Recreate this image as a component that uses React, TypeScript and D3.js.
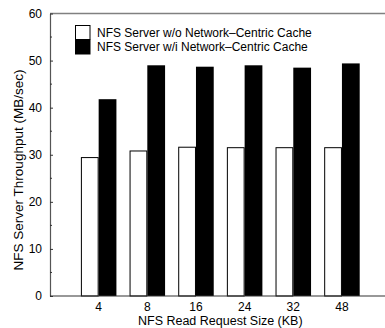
import React, { useEffect, useRef } from "react";
import * as d3 from "d3";

// request sizes on the x axis
const sizes = ["4", "8", "16", "24", "32", "48"];
// throughput (MB/sec)
const withoutCache = [29.4, 30.8, 31.6, 31.5, 31.5, 31.5];
const withCache = [41.8, 49.0, 48.7, 49.0, 48.5, 49.4];
const seriesNames = [
  "NFS Server w/o Network\u2013Centric Cache",
  "NFS Server w/i Network\u2013Centric Cache",
];
const yTicks = [0, 10, 20, 30, 40, 50, 60];

const FONT = "'Liberation Sans', Arial, Helvetica, sans-serif";

function BarChart() {
  const svgRef = useRef<SVGSVGElement>(null);
  const width = 385;
  const height = 328;
  const left = 50;
  const top = 13.5;
  const bottom = 296;
  const right = 390.6;

  useEffect(() => {
    const svg = d3.select(svgRef.current);
    svg.selectAll("*").remove();

    // 7 steps across the plot, bars 26% gap inside each step
    const x = d3
      .scaleBand()
      .domain(sizes)
      .range([left, right])
      .paddingInner(0.27)
      .paddingOuter(0.635);

    const y = d3.scaleLinear().domain([0, 60]).range([bottom, top]);

    const half = x.bandwidth() / 2;

    // white bars (w/o cache)
    svg
      .append("g")
      .selectAll("rect")
      .data(sizes)
      .join("rect")
      .attr("x", (d) => x(d)! + 0.5)
      .attr("y", (d, i) => y(withoutCache[i]))
      .attr("width", half - 1)
      .attr("height", (d, i) => bottom - y(withoutCache[i]))
      .attr("fill", "#fff")
      .attr("stroke", "#000")
      .attr("stroke-width", 1);

    // black bars (w/ cache)
    svg
      .append("g")
      .selectAll("rect")
      .data(sizes)
      .join("rect")
      .attr("x", (d) => x(d)! + half)
      .attr("y", (d, i) => y(withCache[i]))
      .attr("width", half)
      .attr("height", (d, i) => bottom - y(withCache[i]))
      .attr("fill", "#000");

    // top frame line
    svg
      .append("line")
      .attr("x1", left)
      .attr("x2", width)
      .attr("y1", top)
      .attr("y2", top)
      .attr("stroke", "#808080")
      .attr("stroke-width", 1.3);

    // y axis, ticks pointing inward, minor ticks at 5s
    const yAxis = svg
      .append("g")
      .attr("transform", `translate(${left},0)`)
      .call(
        d3
          .axisLeft(y)
          .tickValues(yTicks)
          .tickSizeInner(-3)
          .tickSizeOuter(0)
          .tickPadding(8)
      );
    yAxis.select(".domain").attr("stroke", "#555").attr("stroke-width", 1.2);
    yAxis.selectAll(".tick line").attr("stroke", "#333");
    yAxis
      .selectAll("text")
      .attr("font-family", FONT)
      .attr("font-size", 12)
      .attr("fill", "#000");

    svg
      .append("g")
      .selectAll("line")
      .data(d3.range(5, 60, 10))
      .join("line")
      .attr("x1", left)
      .attr("x2", left + 2)
      .attr("y1", (d) => y(d))
      .attr("y2", (d) => y(d))
      .attr("stroke", "#333");

    // x axis
    const xAxis = svg
      .append("g")
      .attr("transform", `translate(0,${bottom})`)
      .call(d3.axisBottom(x).tickSize(0).tickPadding(6));
    xAxis.select(".domain").remove();
    xAxis
      .selectAll("text")
      .attr("font-family", FONT)
      .attr("font-size", 12)
      .attr("fill", "#000");

    svg
      .append("line")
      .attr("x1", left)
      .attr("x2", width)
      .attr("y1", bottom)
      .attr("y2", bottom)
      .attr("stroke", "#333")
      .attr("stroke-width", 1.2);

    // axis titles
    svg
      .append("text")
      .attr("x", (left + right) / 2)
      .attr("y", 325)
      .attr("text-anchor", "middle")
      .attr("font-family", FONT)
      .attr("font-size", 12.5)
      .text("NFS Read Request Size (KB)");

    svg
      .append("text")
      .attr("transform", `translate(23,170) rotate(-90)`)
      .attr("text-anchor", "middle")
      .attr("font-family", FONT)
      .attr("font-size", 13.5)
      .text("NFS Server Throughput (MB/sec)");

    // legend
    const legend = svg.append("g");
    legend
      .append("rect")
      .attr("x", 75.5)
      .attr("y", 25.5)
      .attr("width", 14.5)
      .attr("height", 14)
      .attr("fill", "#fff")
      .attr("stroke", "#000");
    legend
      .append("rect")
      .attr("x", 75)
      .attr("y", 39.5)
      .attr("width", 15.5)
      .attr("height", 15)
      .attr("fill", "#000");
    legend
      .selectAll("text")
      .data(seriesNames)
      .join("text")
      .attr("x", 97)
      .attr("y", (d, i) => 36.5 + i * 14.5)
      .attr("font-family", FONT)
      .attr("font-size", 12)
      .text((d) => d);
  }, []);

  return (
    <div style={{ position: "absolute", left: 0, top: 0 }}>
      <svg ref={svgRef} width={width} height={height} style={{ display: "block" }} />
    </div>
  );
}

export default function App() {
  return <BarChart />;
}
